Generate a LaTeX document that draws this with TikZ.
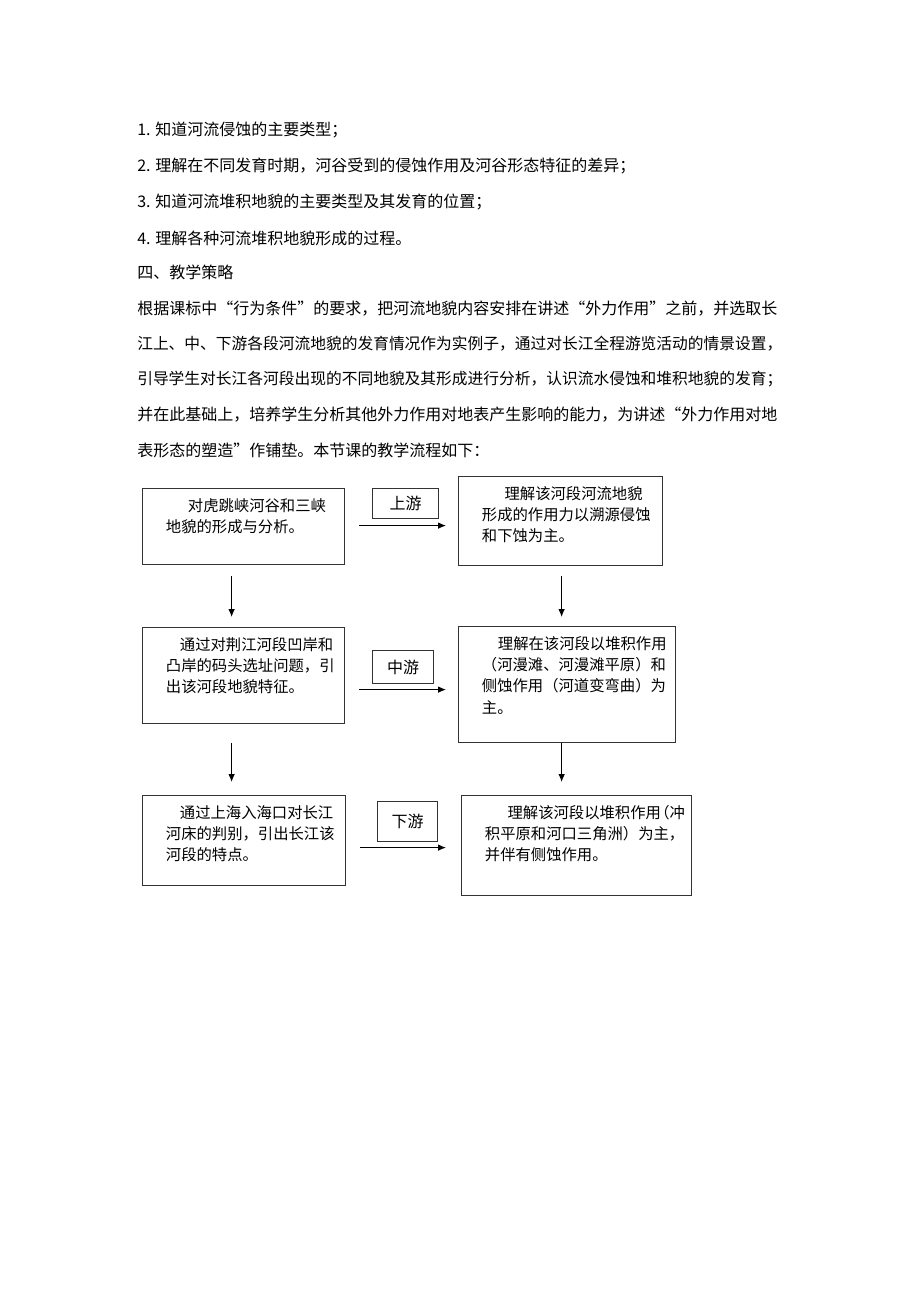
\documentclass[tikz,border=0pt]{standalone}
\usepackage{fontspec}
\setmainfont{Noto Sans CJK SC}
\usetikzlibrary{arrows.meta}

\begin{document}
\begin{tikzpicture}[x=0.75pt, y=-0.75pt, textline/.style={
        anchor=west,
        inner sep=0pt,
        font=\fontsize{12pt}{14pt}\selectfont
    }, part/.style={
        rectangle,
        draw=black!80,
        line width=0.9pt,
        anchor=north west,
        align=left,
        inner xsep=17.5pt,
        inner ysep=2pt,
        text height=15pt,
        font=\fontsize{11.5pt}{16pt}\selectfont
    }, tag/.style={
        rectangle,
        draw=black!80,
        line width=0.9pt,
        anchor=north west,
        inner sep=0pt,
        font=\fontsize{12pt}{14pt}\selectfont
    }, arrow/.style={
        line width=0.8pt, ->, >={Latex[length=6pt,width=5pt]}
    }]
    \fill[white] (0,0) rectangle (920,1302);
    \useasboundingbox (0,0) rectangle (920,1302);

    % text above the chart
    \node (goal1) [textline] at (137,130) {1. 知道河流侵蚀的主要类型；};
    \node (goal2) [textline] at (137,166) {2. 理解在不同发育时期，河谷受到的侵蚀作用及河谷形态特征的差异；};
    \node (goal3) [textline] at (137,202) {3. 知道河流堆积地貌的主要类型及其发育的位置；};
    \node (goal4) [textline] at (137,238) {4. 理解各种河流堆积地貌形成的过程。};
    \node (strat) [textline] at (137,272) {四、教学策略};
    \node (para1) [textline] at (137,308.5) {根据课标中“行为条件”的要求，把河流地貌内容安排在讲述“外力作用”之前，并选取长};
    \node (para2) [textline, font=\fontsize{11.8pt}{14pt}\selectfont] at (137,344) {江上、中、下游各段河流地貌的发育情况作为实例子，通过对长江全程游览活动的情景设置，};
    \node (para3) [textline, font=\fontsize{11.8pt}{14pt}\selectfont] at (137,379.5) {引导学生对长江各河段出现的不同地貌及其形成进行分析，认识流水侵蚀和堆积地貌的发育；};
    \node (para4) [textline] at (137,415) {并在此基础上，培养学生分析其他外力作用对地表产生影响的能力，为讲述“外力作用对地};
    \node (para5) [textline] at (137,450.5) {表形态的塑造”作铺垫。本节课的教学流程如下：};

    % flow chart
    \node (tiger) [part, text width=116.5pt, text depth=38pt] at (142,488)
        {\hspace*{16.5pt}对虎跳峡河谷和三峡\\地貌的形成与分析。};
    \node (erode) [part, text width=118pt, text depth=47.75pt] at (458,476)
        {\hspace*{17pt}理解该河段河流地貌\\形成的作用力以溯源侵蚀\\和下蚀为主。};
    \node (jingjiang) [part, text width=116.5pt, text depth=53pt] at (142,627)
        {\hspace*{10.5pt}通过对荆江河段凹岸和\\凸岸的码头选址问题，引\\出该河段地貌特征。};
    \node (deposit) [part, text width=127.75pt, text depth=68pt] at (458,626)
        {\hspace*{12pt}理解在该河段以堆积作用\\（河漫滩、河漫滩平原）和\\侧蚀作用（河道变弯曲）为\\主。};
    \node (estuary) [part, text width=117.25pt, text depth=48.5pt] at (142,795)
        {\hspace*{10.5pt}通过上海入海口对长江\\河床的判别，引出长江该\\河段的特点。};
    \node (delta) [part, text width=137.5pt, text depth=56pt] at (461,795)
        {\hspace*{17pt}理解该河段以堆积作用\kern-5pt（冲\\积平原和河口三角洲）为主，\\并伴有侧蚀作用。};

    \node (upper) [tag, minimum width=49.5pt, minimum height=22.5pt] at (372,488) {上游};
    \node (middle) [tag, minimum width=45.75pt, minimum height=24.75pt] at (372,650) {中游};
    \node (lower) [tag, minimum width=45pt, minimum height=30pt] at (377,801) {下游};

    \draw [arrow, shorten <=10.5pt, shorten >=9pt] ([yshift=0.75pt]tiger.east) -- ([yshift=0.75pt]tiger.east -| erode.west);
    \draw [arrow, shorten <=10.5pt, shorten >=9pt] ([yshift=-10.5pt]jingjiang.east) -- ([yshift=-10.5pt]jingjiang.east -| deposit.west);
    \draw [arrow, shorten <=10.5pt, shorten >=11.25pt] ([yshift=-5.25pt]estuary.east) -- ([yshift=-5.25pt]estuary.east -| delta.west);
    \draw [arrow, shorten <=8.25pt, shorten >=7.5pt] ([xshift=-9pt]tiger.south) -- ([xshift=-9pt]tiger.south |- jingjiang.north);
    \draw [arrow, shorten <=14.25pt, shorten >=9.75pt] ([xshift=-9pt]jingjiang.south) -- ([xshift=-9pt]jingjiang.south |- estuary.north);
    \draw [arrow, shorten <=7.5pt, shorten >=6.75pt] ([xshift=0.75pt]erode.south) -- ([xshift=0.75pt]erode.south |- deposit.north);
    \draw [arrow, shorten >=9.75pt] ([xshift=-4.1pt]deposit.south) -- ([xshift=-4.1pt]deposit.south |- delta.north);

\end{tikzpicture}
\end{document}
